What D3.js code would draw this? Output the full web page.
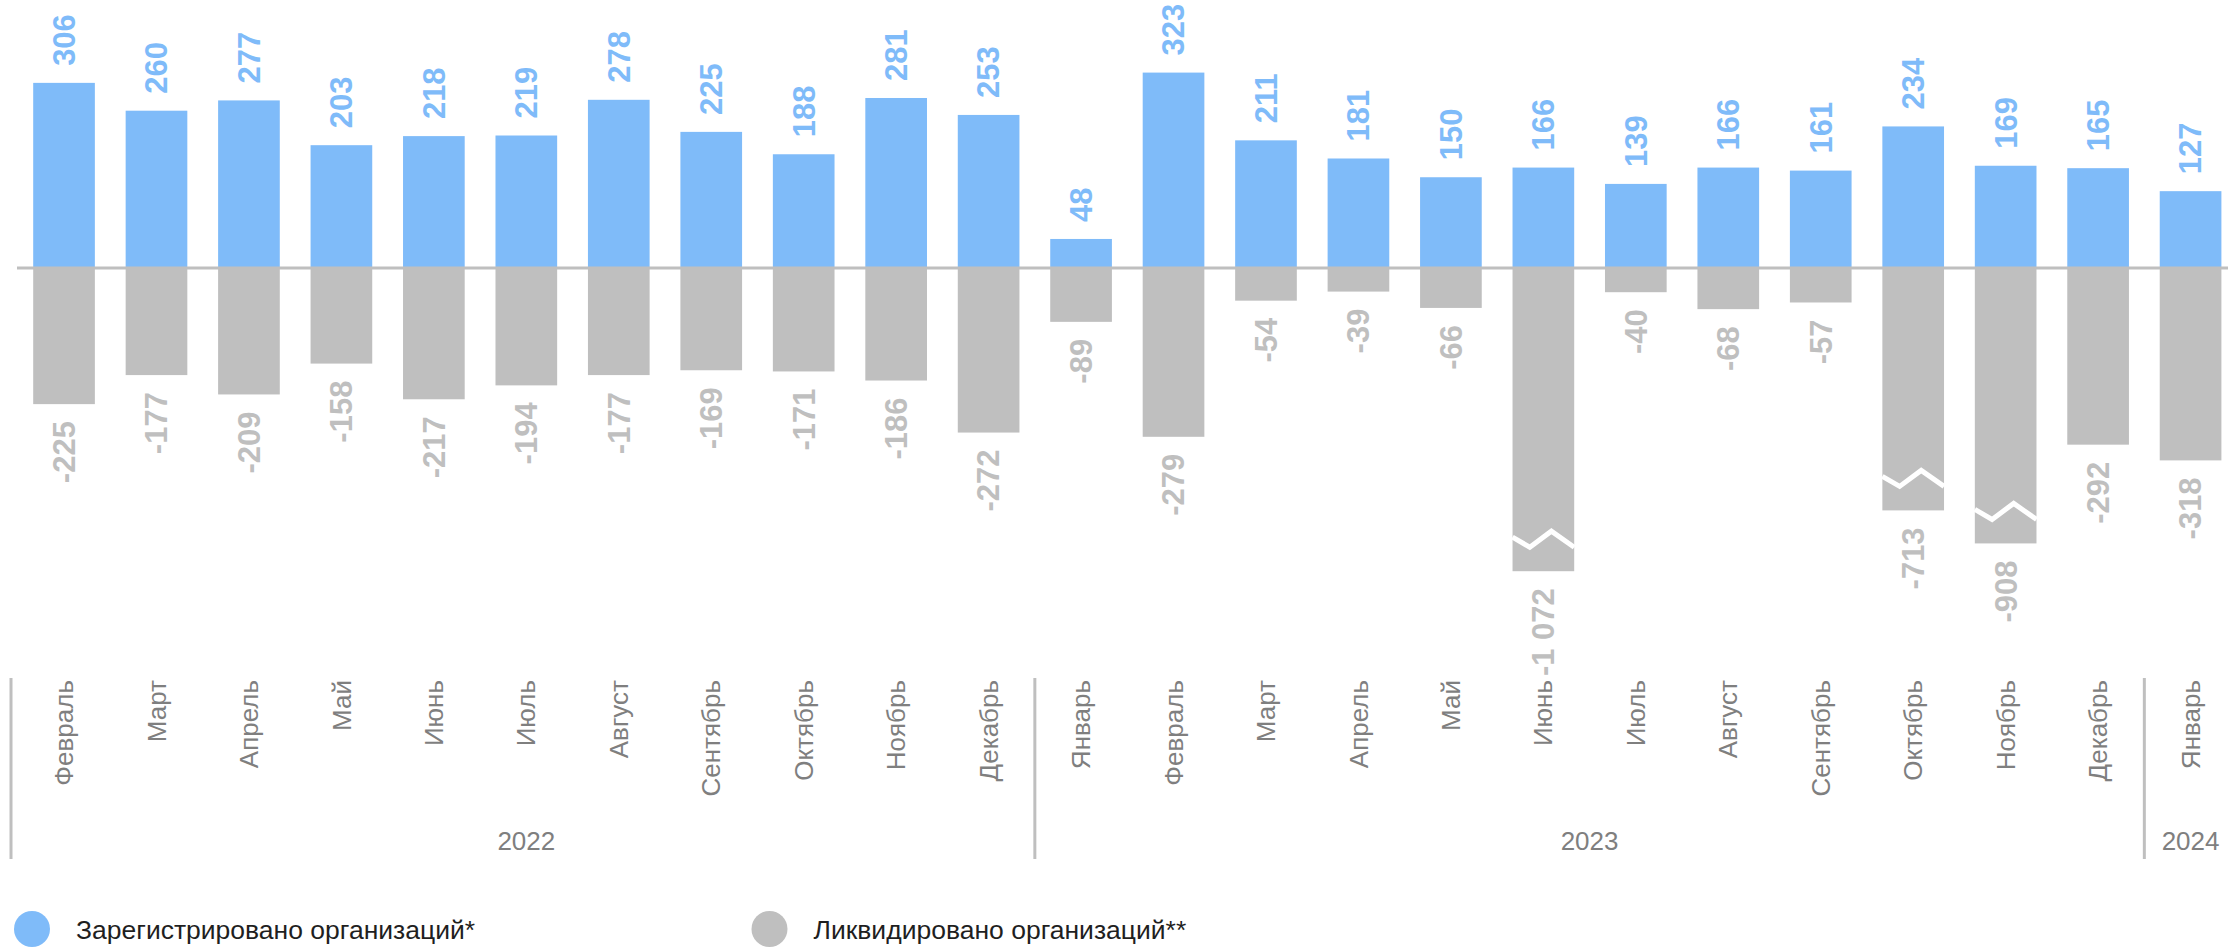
<!DOCTYPE html>
<html>
<head>
<meta charset="utf-8">
<script src="https://cdn.jsdelivr.net/npm/d3@7"></script>
<style>
  body { margin: 0; background: #fff; }
  svg { display: block; font-family: "Liberation Sans", Arial, sans-serif; }
</style>
</head>
<body>
<svg id="chart" width="2228" height="947"></svg>
<script>
// months on the axis, Feb 2022 .. Jan 2024
var months = ["Февраль", "Март", "Апрель", "Май", "Июнь", "Июль", "Август", "Сентябрь", "Октябрь", "Ноябрь", "Декабрь",
  "Январь", "Февраль", "Март", "Апрель", "Май", "Июнь", "Июль", "Август", "Сентябрь", "Октябрь", "Ноябрь", "Декабрь",
  "Январь"];
var registered = [306, 260, 277, 203, 218, 219, 278, 225, 188, 281, 253,
  48, 323, 211, 181, 150, 166, 139, 166, 161, 234, 169, 165, 127];
var liquidated = [-225, -177, -209, -158, -217, -194, -177, -169, -171, -186, -272,
  -89, -279, -54, -39, -66, -1072, -40, -68, -57, -713, -908, -292, -318];
var yearLabels = ["2022", "2023", "2024"];
var yearSpans = [11, 12, 1];
var legendLabels = ["Зарегистрировано организаций*", "Ликвидировано организаций**"];

var blue = "#7fbbf9", grey = "#bfbfbf", labelGrey = "#7f7f7f";

var svg = d3.select("#chart");

var x = d3.scaleBand()
  .domain(d3.range(months.length))
  .range([17.8, 2236.8])
  .paddingInner(0.333)
  .paddingOuter(0.1665);

// broken axis: below -330 the liquidated bars get compressed
var y0 = 268, k = 0.605;
var y = d3.scaleLinear()
  .domain([-1100, -700, -330, 0, 330])
  .range([y0 + 509 * k, y0 + 397 * k, y0 + 330 * k, y0, y0 - 330 * k]);
var breakAt = -330;

var fmt = d3.formatLocale({decimal: ",", thousands: " ", grouping: [3], currency: ["", ""], minus: "-"}).format(",d");

var data = months.map(function(m, i) {
  return {i: i, month: m, reg: registered[i], liq: liquidated[i]};
});

// bars
svg.append("g").selectAll("rect")
  .data(data)
  .enter().append("rect")
  .attr("x", function(d) { return x(d.i); })
  .attr("width", x.bandwidth())
  .attr("y", function(d) { return y(d.reg); })
  .attr("height", function(d) { return y(0) - y(d.reg); })
  .attr("fill", blue);

svg.append("g").selectAll("rect")
  .data(data)
  .enter().append("rect")
  .attr("x", function(d) { return x(d.i); })
  .attr("width", x.bandwidth())
  .attr("y", y(0))
  .attr("height", function(d) { return y(d.liq) - y(0); })
  .attr("fill", grey);

// break marks on the long bars
var w = x.bandwidth();
svg.append("g").selectAll("polyline")
  .data(data.filter(function(d) { return d.liq < breakAt; }))
  .enter().append("polyline")
  .attr("points", function(d) {
    var x0 = x(d.i), yc = y(d.liq) - 32;
    return [[x0, yc - 2], [x0 + 0.28 * w, yc + 8], [x0 + 0.63 * w, yc - 8], [x0 + w, yc + 8]].join(" ");
  })
  .attr("fill", "none")
  .attr("stroke", "#fff")
  .attr("stroke-width", 5);

// zero line
svg.append("line")
  .attr("x1", 17).attr("x2", 2228)
  .attr("y1", y(0)).attr("y2", y(0))
  .attr("stroke", grey)
  .attr("stroke-width", 3);

// value labels
svg.append("g").selectAll("text")
  .data(data)
  .enter().append("text")
  .attr("transform", function(d) {
    return "translate(" + (x(d.i) + w / 2) + "," + (y(d.reg) - 17) + ") rotate(-90)";
  })
  .attr("dy", "0.35em")
  .attr("text-anchor", "start")
  .attr("font-size", 31)
  .attr("font-weight", "bold")
  .attr("fill", blue)
  .text(function(d) { return fmt(d.reg); });

svg.append("g").selectAll("text")
  .data(data)
  .enter().append("text")
  .attr("transform", function(d) {
    return "translate(" + (x(d.i) + w / 2) + "," + (y(d.liq) + 17) + ") rotate(-90)";
  })
  .attr("dy", "0.35em")
  .attr("text-anchor", "end")
  .attr("font-size", 31)
  .attr("font-weight", "bold")
  .attr("fill", grey)
  .text(function(d) { return fmt(d.liq); });

// month labels
svg.append("g").selectAll("text")
  .data(data)
  .enter().append("text")
  .attr("transform", function(d) {
    return "translate(" + (x(d.i) + w / 2) + ",680) rotate(-90)";
  })
  .attr("dy", "0.35em")
  .attr("text-anchor", "end")
  .attr("font-size", 26)
  .attr("fill", labelGrey)
  .text(function(d) { return d.month; });

// year groups with separators
var half = x.step() * x.paddingInner() / 2;
var start = 0;
yearLabels.forEach(function(yr, j) {
  var left = x(start) - half;
  var right = x(start + yearSpans[j] - 1) + w + half;
  svg.append("line")
    .attr("x1", j === 0 ? 11 : left).attr("x2", j === 0 ? 11 : left)
    .attr("y1", 678).attr("y2", 859)
    .attr("stroke", grey)
    .attr("stroke-width", 3);
  svg.append("text")
    .attr("x", (left + right) / 2)
    .attr("y", 850)
    .attr("text-anchor", "middle")
    .attr("font-size", 26)
    .attr("fill", labelGrey)
    .text(yr);
  start += yearSpans[j];
});

// legend
var legend = svg.append("g").selectAll("g")
  .data(legendLabels)
  .enter().append("g")
  .attr("transform", function(d, i) { return "translate(" + (i === 0 ? 32 : 769.5) + ",929)"; });
legend.append("circle")
  .attr("r", 18)
  .attr("fill", function(d, i) { return i === 0 ? blue : grey; });
legend.append("text")
  .attr("x", 44)
  .attr("y", 10)
  .attr("font-size", 26.5)
  .attr("fill", "#1f1f1f")
  .text(function(d) { return d; });
</script>
</body>
</html>
